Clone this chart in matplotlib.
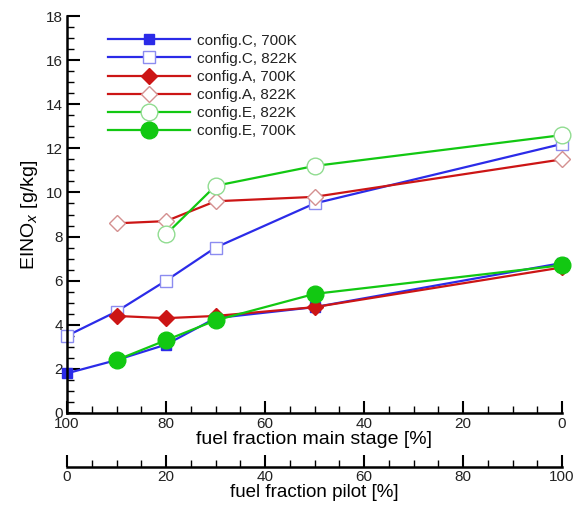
import matplotlib
matplotlib.use("Agg")
import matplotlib.pyplot as plt
from matplotlib.ticker import MultipleLocator, FixedLocator

plt.rcParams['font.family'] = ['Liberation Sans', 'DejaVu Sans']
plt.rcParams['text.color'] = '#222222'
plt.rcParams['xtick.labelcolor'] = '#222222'
plt.rcParams['ytick.labelcolor'] = '#222222'

# fuel fraction main stage [%]
x_c700 = [100, 90, 80, 70, 50, 0]
y_c700 = [1.8, 2.4, 3.1, 4.3, 4.8, 6.8]
x_c822 = [100, 90, 80, 70, 50, 0]
y_c822 = [3.5, 4.6, 6.0, 7.5, 9.5, 12.2]
x_a700 = [90, 80, 70, 50, 0]
y_a700 = [4.4, 4.3, 4.4, 4.8, 6.6]
x_a822 = [90, 80, 70, 50, 0]
y_a822 = [8.6, 8.7, 9.6, 9.8, 11.5]
x_e822 = [80, 70, 50, 0]
y_e822 = [8.1, 10.3, 11.2, 12.6]
x_e700 = [90, 80, 70, 50, 0]
y_e700 = [2.4, 3.3, 4.2, 5.4, 6.7]
ticks_pct = [0, 20, 40, 60, 80, 100]

blue = '#2b2be8'
red = '#cc1515'
green = '#12c812'

fig = plt.figure(figsize=(5.82, 5.07), dpi=100)
ax = fig.add_axes([67/582, 1-413/507, 495/582, 397/507])

ax.plot(x_c700, y_c700, color=blue, lw=1.6, marker='s', ms=7.5, mfc=blue, mec=blue,
        label='config.C, 700K', clip_on=False)
ax.plot(x_c822, y_c822, color=blue, lw=1.6, marker='s', ms=9, mfc='white', mec='#8c8cf0',
        label='config.C, 822K', clip_on=False)
ax.plot(x_a700, y_a700, color=red, lw=1.6, marker='D', ms=8, mfc=red, mec=red,
        label='config.A, 700K', clip_on=False)
ax.plot(x_a822, y_a822, color=red, lw=1.6, marker='D', ms=8, mfc='white', mec='#d49090',
        label='config.A, 822K', clip_on=False)
ax.plot(x_e822, y_e822, color=green, lw=1.6, marker='o', ms=12, mfc='white', mec='#90dc90',
        label='config.E, 822K', clip_on=False)
ax.plot(x_e700, y_e700, color=green, lw=1.6, marker='o', ms=12, mfc=green, mec=green,
        label='config.E, 700K', clip_on=False)

ax.set_xlim(100, 0)
ax.set_ylim(0, 18)
ax.xaxis.set_major_locator(FixedLocator(ticks_pct))
ax.xaxis.set_minor_locator(MultipleLocator(5))
ax.yaxis.set_major_locator(MultipleLocator(2))
ax.yaxis.set_minor_locator(MultipleLocator(0.5))
ax.tick_params(which='both', direction='in', width=1.5, labelsize=11, pad=3)
ax.tick_params(which='major', length=9)
ax.tick_params(which='minor', length=5, width=1)
ax.spines['top'].set_visible(False)
ax.spines['right'].set_visible(False)
ax.spines['left'].set_linewidth(1.8)
ax.spines['bottom'].set_linewidth(1.8)
ax.set_xlabel('fuel fraction main stage [%]', fontsize=14, labelpad=0)
ax.set_ylabel('EINO$_x$ [g/kg]', fontsize=14, labelpad=4)

sec = ax.secondary_xaxis(-0.136, functions=(lambda v: 100 - v, lambda v: 100 - v))
sec.xaxis.set_major_locator(FixedLocator(ticks_pct))
sec.xaxis.set_minor_locator(MultipleLocator(5))
sec.tick_params(which='both', direction='in', width=1.5, labelsize=11, pad=2)
sec.tick_params(which='major', length=9)
sec.tick_params(which='minor', length=5, width=1)
sec.spines['bottom'].set_linewidth(1.8)
sec.set_xlabel('fuel fraction pilot [%]', fontsize=13.5, labelpad=0)

ax.legend(loc='upper left', bbox_to_anchor=(0.055, 0.99), frameon=False, fontsize=11,
          handlelength=5.4, labelspacing=0.27, handletextpad=0.45)

fig.savefig('out.png', dpi=100)
